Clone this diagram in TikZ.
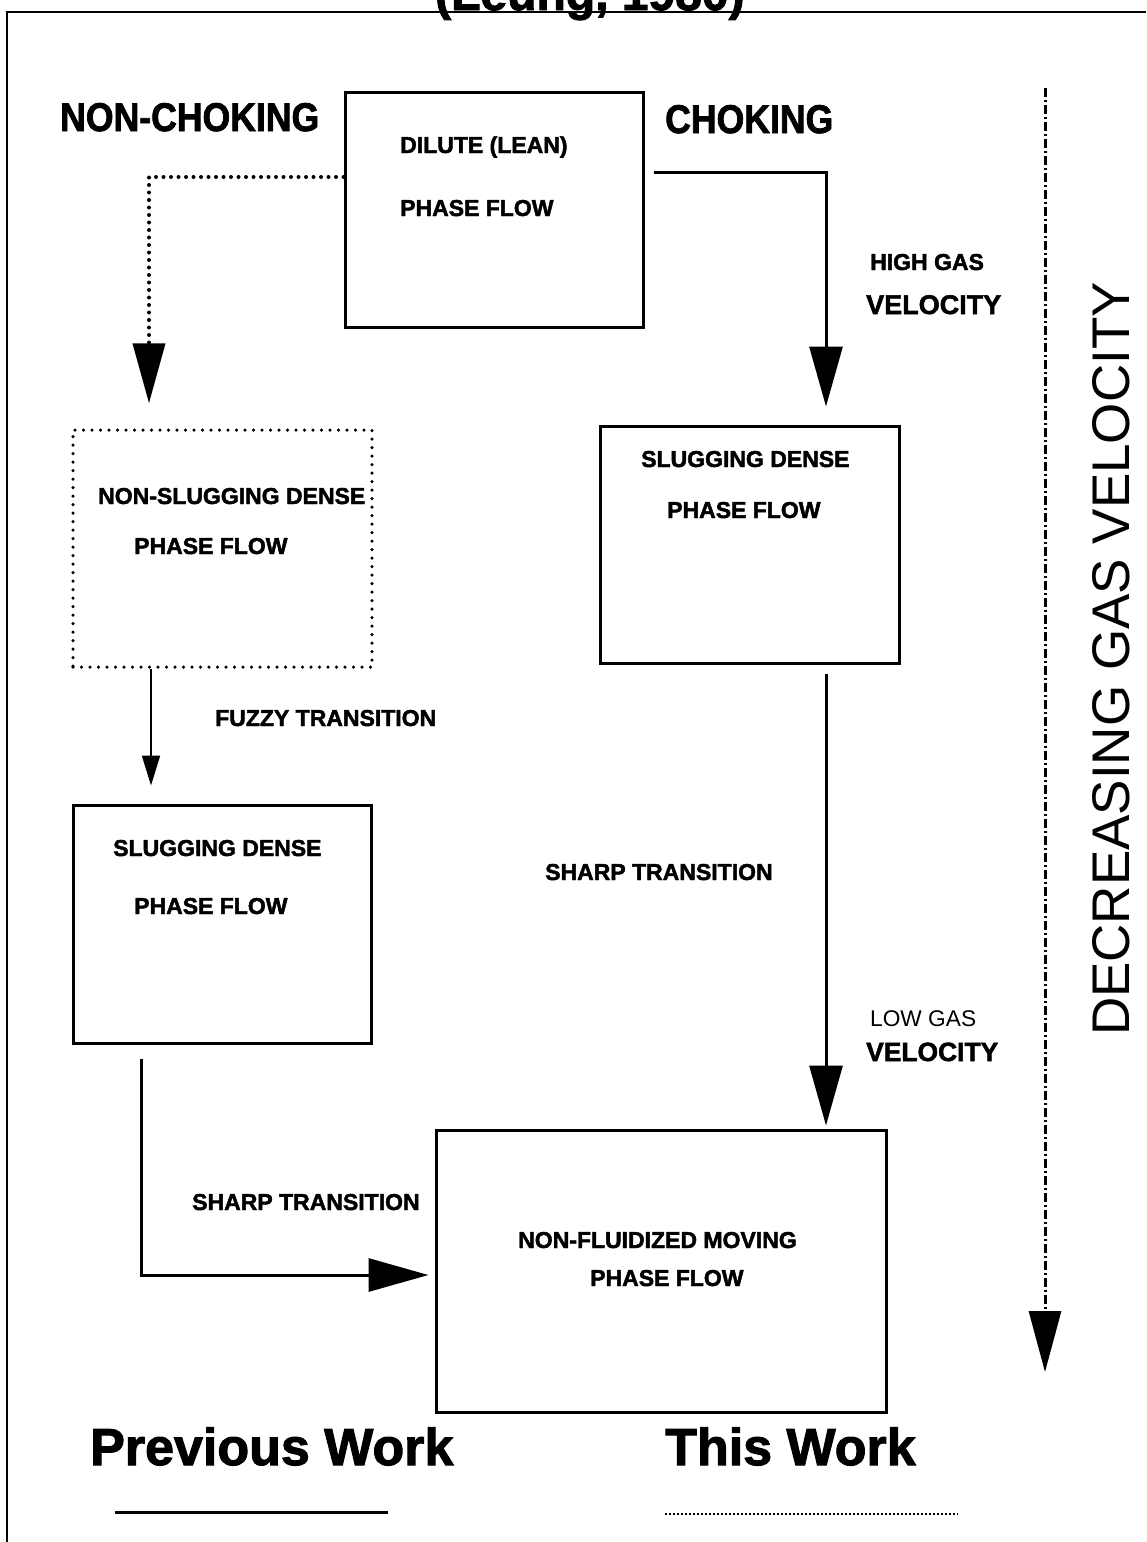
\documentclass[tikz,border=0pt]{standalone}
\usepackage{fontspec}
\setmainfont{Liberation Sans}[BoldFeatures={FakeBold=2}]
\usepackage{graphicx}
\usetikzlibrary{arrows.meta}
\begin{document}
\begin{tikzpicture}[x=1pt,y=-1pt,
  box/.style={draw,line width=3pt,minimum width=#1,inner sep=0pt},
  boxlab/.style={font=\bfseries\fontsize{23}{25}\selectfont,anchor=base west,inner sep=0pt},
  biglab/.style={font=\bfseries\fontsize{40}{42}\selectfont,anchor=base west,inner sep=0pt},
  worklab/.style={font=\bfseries\fontsize{52}{56}\selectfont,anchor=base west,inner sep=0pt},
  solidarrow/.style={line width=3pt,-{Triangle[length=60pt,width=33pt]}},
  dotarrow/.style={line width=4pt,line cap=round,dash pattern=on 0pt off 7.5pt,-{Triangle[length=60pt,width=32pt]}},
  thinarrow/.style={line width=2pt,-{Triangle[length=30pt,width=18pt]}},
  dotbox/.style={draw,line width=3.5pt,line cap=round,dash pattern=on 0pt off 8.5pt,inner sep=0pt}
]
\useasboundingbox (0,0) rectangle (1146,1542);
% frame and title
\node[font=\bfseries\fontsize{48}{52}\selectfont,anchor=base west,inner sep=0pt] (title) at (435,10) {(Leung, 1980)};
\coordinate (frTR) at (1146,12);
\coordinate (frTL) at (7,12);
\coordinate (frBL) at (7,1542);
\draw[line width=2pt] (frTR) -- (frTL) -- (frBL);

% boxes
\node[box=298pt,minimum height=235pt] (dilute) at (494,209.5) {};
\node[dotbox,minimum width=299pt,minimum height=237pt] (nonslug) at (222.5,548.5) {};
\node[box=298pt,minimum height=238pt] (slugL) at (222,924) {};
\node[box=299pt,minimum height=237pt] (slugR) at (749.5,544.5) {};
\node[box=450pt,minimum height=282pt] (nonfluid) at (661,1271) {};

% box texts
\node[boxlab] (t1) at (400,153) {DILUTE (LEAN)};
\node[boxlab] (t2) at (400,216) {PHASE FLOW};
\node[boxlab] (t3) at (98,504) {NON-SLUGGING DENSE};
\node[boxlab] (t4) at (134,554) {PHASE FLOW};
\node[boxlab] (t5) at (641,467) {SLUGGING DENSE};
\node[boxlab] (t6) at (667,518) {PHASE FLOW};
\node[boxlab] (t7) at (113,856) {SLUGGING DENSE};
\node[boxlab] (t8) at (134,914) {PHASE FLOW};
\node[boxlab] (t9) at (518,1248) {NON-FLUIDIZED MOVING};
\node[boxlab] (t10) at (590,1286) {PHASE FLOW};

% other labels
\node[biglab] (nch) at (60,131) {\scalebox{0.89}[1]{NON-CHOKING}};
\node[biglab] (ch) at (665,133) {\scalebox{0.89}[1]{CHOKING}};
\node[boxlab] (hg) at (870,270) {HIGH GAS};
\node[boxlab,font=\bfseries\fontsize{27}{29}\selectfont] (hv) at (866,314) {VELOCITY};
\node[boxlab] (fz) at (215,726) {FUZZY TRANSITION};
\node[boxlab] (sh1) at (545,880) {SHARP TRANSITION};
\node[boxlab,font=\fontsize{22.7}{25}\selectfont] (lg) at (870,1026) {LOW GAS};
\node[boxlab,font=\bfseries\fontsize{26.4}{29}\selectfont] (lv) at (866,1061) {VELOCITY};
\node[boxlab] (sh2) at (192,1210) {SHARP TRANSITION};
\node[font=\fontsize{53}{56}\selectfont,rotate=90,inner sep=0pt] (dec) at (1111,659) {DECREASING GAS VELOCITY};
\node[worklab] (pw) at (90,1465) {Previous Work};
\node[worklab] (tw) at (665,1465) {This Work};

% connectors
\coordinate (c1b) at (149,177);
\draw[dotarrow,shorten >=25pt] (dilute.west |- c1b) -- (c1b) -- (c1b |- nonslug.north);
\coordinate (c2b) at (826,172);
\draw[solidarrow,shorten >=18pt] ([xshift=9pt]dilute.east |- c2b) -- (c2b) -- (c2b |- slugR.north);
\coordinate (c3) at (151,700);
\draw[thinarrow,shorten >=18pt] (c3 |- nonslug.south) -- (c3 |- slugL.north);
\coordinate (c4b) at (141,1275);
\draw[solidarrow,shorten <=14pt,shorten >=6pt] (c4b |- slugL.south) -- (c4b) -- (c4b -| nonfluid.west);
\coordinate (c5) at (826,900);
\draw[solidarrow,shorten <=9pt,shorten >=3pt] (c5 |- slugR.south) -- (c5 |- nonfluid.north);

% decreasing velocity axis
\coordinate (dtop) at (1045,88);
\coordinate (dbot) at (1045,1372);
\draw[line width=3pt,dash pattern=on 9pt off 3pt on 2pt off 3pt,-{Triangle[length=61pt,width=32pt]}] (dtop) -- (dbot);

% legend lines
\coordinate (l1a) at (115,1512);
\coordinate (l1b) at (388,1512);
\draw[line width=3pt] (l1a) -- (l1b);
\coordinate (l2a) at (665,1514);
\coordinate (l2b) at (958,1514);
\draw[line width=2.2pt,dash pattern=on 1.5pt off 2.5pt] (l2a) -- (l2b);
\end{tikzpicture}
\end{document}
